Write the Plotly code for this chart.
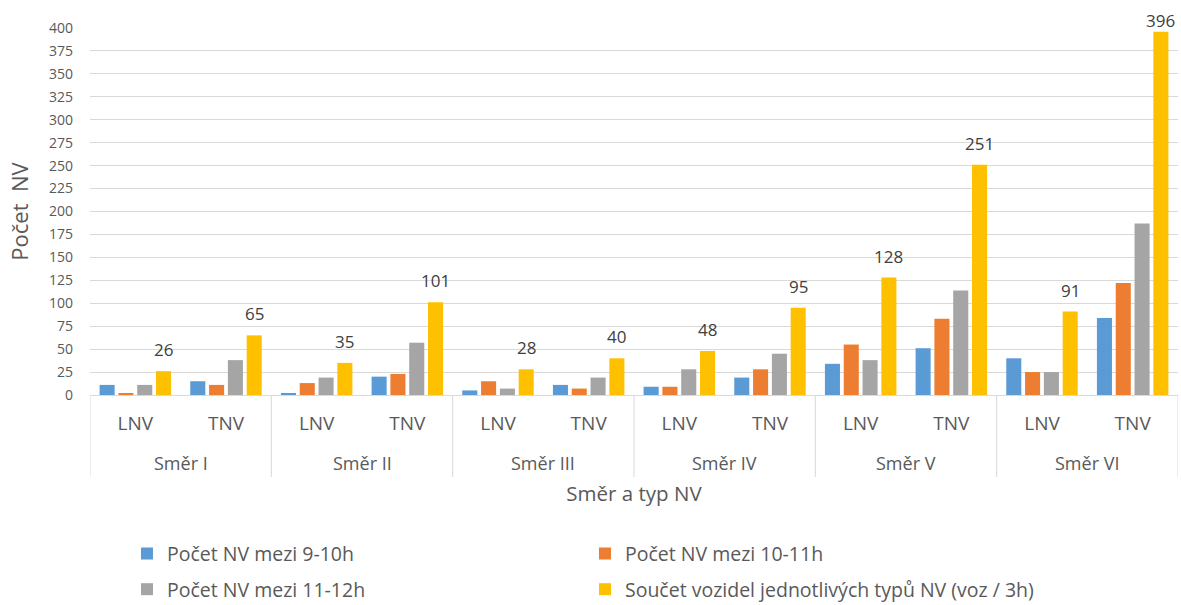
import plotly.graph_objects as go

# Categories: direction (outer level) and vehicle type (inner level)
directions = ["Směr I", "Směr II", "Směr III", "Směr IV", "Směr V", "Směr VI"]
vehicle_types = ["LNV", "TNV"]

# Hourly counts per direction/type (LNV, TNV pairs in direction order)
count_9_10 = [11, 15, 2, 20, 5, 11, 9, 19, 34, 51, 40, 84]
count_10_11 = [2, 11, 13, 23, 15, 7, 9, 28, 55, 83, 25, 122]
count_11_12 = [11, 38, 19, 57, 7, 19, 28, 45, 38, 114, 25, 187]
total_3h = [26, 65, 35, 101, 28, 40, 48, 95, 128, 251, 91, 396]

series_names = [
    "Počet NV mezi 9-10h",
    "Počet NV mezi 10-11h",
    "Počet NV mezi 11-12h",
    "Součet vozidel jednotlivých typů NV (voz / 3h)",
]
y_ticks = list(range(0, 401, 25))

# Position index for every (direction, type) pair
n_cat = len(directions) * len(vehicle_types)
x_pos = list(range(n_cat))
x_labels = [t for _ in directions for t in vehicle_types]

colors = ["#5B9BD5", "#ED7D31", "#A5A5A5", "#FFC000"]
series = [count_9_10, count_10_11, count_11_12, total_3h]
legend_ids = ["legend", "legend", "legend2", "legend2"]

FONT = "Open Sans, Liberation Sans, sans-serif"
TEXT = "#595959"
GRID = "#D9D9D9"
BARGAP = 0.17
BARGROUPGAP = 0.2
Y_MAX = 400
MARGIN_T, MARGIN_B, HEIGHT = 28, 210, 605
PX_PER_UNIT = (HEIGHT - MARGIN_T - MARGIN_B) / Y_MAX

fig = go.Figure()
for i, (name, vals) in enumerate(zip(series_names, series)):
    fig.add_trace(go.Bar(
        x=x_pos,
        y=vals,
        name=name,
        marker=dict(color=colors[i], line=dict(width=0)),
        legend=legend_ids[i],
        hovertemplate="%{y}<extra>" + name + "</extra>",
    ))

# Value labels above the total bars (centre of the 4th bar in each group);
# labels near the top are pulled down so they stay inside the figure
slot = (1 - BARGAP) / len(series)
total_offset = -(1 - BARGAP) / 2 + slot * (len(series) - 0.5)
for xi, v in zip(x_pos, total_3h):
    headroom = MARGIN_T + (Y_MAX - v) * PX_PER_UNIT
    fig.add_annotation(
        x=xi + total_offset, y=v, xref="x", yref="y",
        text=str(v), showarrow=False, yanchor="bottom",
        yshift=min(8, headroom - 34),
        font=dict(size=17, color="#404040", family=FONT),
    )

# Direction labels under each LNV/TNV pair and separators between directions
pair = len(vehicle_types)
for k, d in enumerate(directions):
    fig.add_annotation(
        x=k * pair + (pair - 1) / 2, y=-0.185, xref="x", yref="paper",
        text=d, showarrow=False, yanchor="middle",
        font=dict(size=18, color=TEXT, family=FONT),
    )
for k in range(len(directions) + 1):
    fig.add_shape(
        type="line", xref="x", yref="paper",
        x0=k * pair - 0.5, x1=k * pair - 0.5, y0=0, y1=-0.2234,
        line=dict(color=GRID, width=1),
    )

legend_common = dict(
    orientation="h", x=0.034, xanchor="left", yanchor="middle",
    entrywidth=413, font=dict(size=19.5, color=TEXT, family=FONT),
    traceorder="normal", bgcolor="rgba(0,0,0,0)",
)

fig.update_layout(
    width=1181,
    height=HEIGHT,
    margin=dict(l=90, r=3, t=MARGIN_T, b=MARGIN_B, autoexpand=False),
    paper_bgcolor="white",
    plot_bgcolor="white",
    barmode="group",
    bargap=BARGAP,
    bargroupgap=BARGROUPGAP,
    font=dict(family=FONT, color=TEXT, size=14),
    legend=dict(y=-0.433, **legend_common),
    legend2=dict(y=-0.53, **legend_common),
)

fig.update_yaxes(
    range=[0, Y_MAX],
    tickvals=y_ticks,
    ticks="",
    ticklabelstandoff=16,
    tickfont=dict(size=14, color=TEXT),
    showgrid=True,
    gridcolor=GRID,
    gridwidth=1,
    zeroline=False,
    showline=False,
    title=dict(text="Počet  NV", font=dict(size=22, color=TEXT), standoff=14),
    automargin=False,
)

fig.update_xaxes(
    range=[-0.5, n_cat - 0.5],
    tickvals=x_pos,
    ticktext=x_labels,
    ticks="",
    ticklabelstandoff=11,
    showgrid=False,
    zeroline=False,
    showline=True,
    linecolor=GRID,
    linewidth=1,
    tickfont=dict(size=19, color=TEXT),
    title=dict(text="Směr a typ NV", font=dict(size=20.5, color=TEXT), standoff=51),
    automargin=False,
)

fig.write_html("out.html")
